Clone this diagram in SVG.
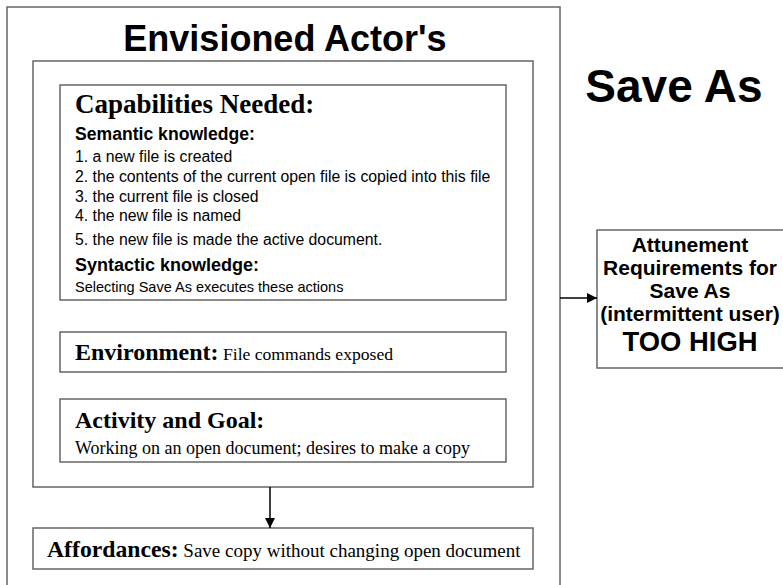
<svg xmlns="http://www.w3.org/2000/svg" width="783" height="585" viewBox="0 0 783 585">
  <defs>
    <marker id="arrow" markerWidth="12" markerHeight="12" refX="10" refY="5" orient="auto" markerUnits="userSpaceOnUse">
      <path d="M0,0 L10,5 L0,10 Z" fill="#000"/>
    </marker>
    <style>
      .box { fill: #fff; stroke: #666; stroke-width: 1.5; }
      .conn { stroke: #000; stroke-width: 1.5; fill: none; }
      .sans { font-family: "Liberation Sans", Arial, sans-serif; fill: #000; }
      .serif { font-family: "Liberation Serif", "Times New Roman", serif; fill: #000; }
      .b { font-weight: bold; }
    </style>
  </defs>
  <rect width="783" height="585" fill="#fff"/>

  <!-- outer frame: envisioned actor -->
  <g id="actor">
    <rect class="box" x="7" y="7" width="553" height="600"/>
    <text class="sans b" x="285" y="51" font-size="36" text-anchor="middle">Envisioned Actor's</text>
    <rect class="box" x="33" y="61" width="500" height="426"/>
  </g>

  <g id="capabilities">
    <rect class="box" x="60" y="85" width="446" height="215"/>
    <text class="serif b" x="75" y="113" font-size="27">Capabilities Needed:</text>
    <text class="sans b" x="75" y="140" font-size="17.6">Semantic knowledge:</text>
    <text class="sans" x="75" y="162" font-size="15.8">1. a new file is created</text>
    <text class="sans" x="75" y="182" font-size="15.8">2. the contents of the current open file is copied into this file</text>
    <text class="sans" x="75" y="202" font-size="15.8">3. the current file is closed</text>
    <text class="sans" x="75" y="221" font-size="15.8">4. the new file is named</text>
    <text class="sans" x="75" y="245" font-size="15.8">5. the new file is made the active document.</text>
    <text class="sans b" x="75" y="271" font-size="18">Syntactic knowledge:</text>
    <text class="sans" x="75" y="292" font-size="14.5">Selecting Save As executes these actions</text>
  </g>

  <g id="environment">
    <rect class="box" x="60" y="332" width="446" height="40"/>
    <text class="serif" x="75" y="360"><tspan class="b" font-size="24">Environment:</tspan><tspan font-size="17.6"> File commands exposed</tspan></text>
  </g>

  <g id="activity">
    <rect class="box" x="60" y="399" width="446" height="63"/>
    <text class="serif b" x="75" y="428" font-size="24">Activity and Goal:</text>
    <text class="serif" x="75" y="454" font-size="18">Working on an open document; desires to make a copy</text>
  </g>

  <g id="affordances">
    <rect class="box" x="33" y="528" width="500" height="41"/>
    <text class="serif" x="47" y="557"><tspan class="b" font-size="23.7">Affordances:</tspan><tspan font-size="19"> Save copy without changing open document</tspan></text>
  </g>

  <g id="title">
    <text class="sans b" x="674" y="102" font-size="46" text-anchor="middle">Save As</text>
  </g>

  <g id="attunement">
    <rect class="box" x="597" y="230" width="200" height="138"/>
    <g class="sans b" text-anchor="middle">
      <text x="690" y="252" font-size="21">Attunement</text>
      <text x="690" y="275" font-size="21">Requirements for</text>
      <text x="690" y="298" font-size="21">Save As</text>
      <text x="690" y="321" font-size="21">(intermittent user)</text>
      <text x="690" y="351" font-size="27.4">TOO HIGH</text>
    </g>
  </g>

  <g id="connectors">
    <line class="conn" x1="560" y1="298" x2="597" y2="298" marker-end="url(#arrow)"/>
    <line class="conn" x1="270" y1="487" x2="270" y2="528" marker-end="url(#arrow)"/>
  </g>
</svg>
